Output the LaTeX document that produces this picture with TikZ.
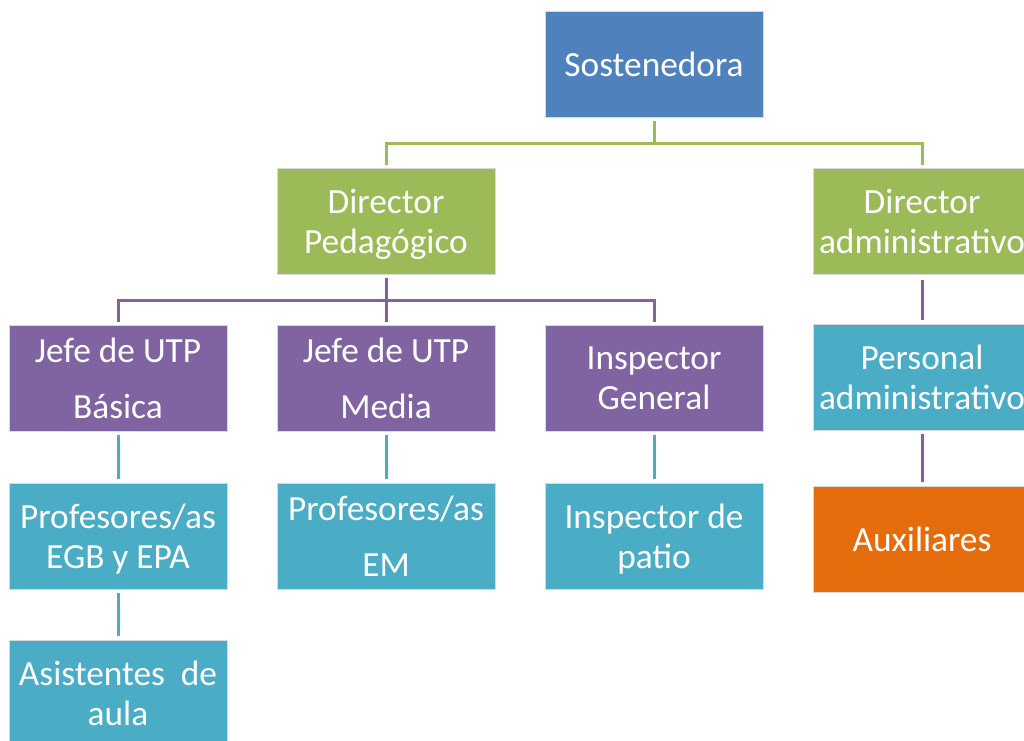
\documentclass[tikz,border=0pt]{standalone}
\usepackage{fontspec}
\setmainfont{Carlito}
\definecolor{cblue}{HTML}{4F81BD}
\definecolor{cgreen}{HTML}{9BBB59}
\definecolor{cpurple}{HTML}{8064A2}
\definecolor{cteal}{HTML}{4BACC6}
\definecolor{corange}{HTML}{E46C0A}
\newcommand{\nodp}[1]{\raisebox{0pt}[\height][0pt]{#1}}
\begin{document}
\begin{tikzpicture}[x=0.75pt,y=-0.75pt,
  box/.style={minimum width=163.5pt, minimum height=79.5pt, inner sep=0pt,
    text=white, align=center, draw=white!85!black, line width=0.4pt,
    font=\fontsize{26.5}{30}\selectfont},
  wide/.style={font=\fontsize{26.5}{42}\selectfont},
  conn/.style={line width=2.25pt},
  gline/.style={conn, draw=cgreen},
  pline/.style={conn, draw=cpurple},
  tline/.style={conn, draw=cteal}]
\useasboundingbox (0,0) rectangle (1024,740);
\clip (0,0) rectangle (1024,740);
\fill[white] (0,0) rectangle (1024,740);

\node[box, fill=cblue] (sost) at (654,64) {Sostenedora};
\node[box, fill=cgreen] (dp) at (386,221) {Director\\\nodp{Pedagógico}};
\node[box, fill=cgreen] (da) at (922,221) {Director\\administrativo};
\node[box, wide, fill=cpurple] (jb) at (118,378) {Jefe de UTP\\Básica};
\node[box, wide, fill=cpurple] (jm) at (386,378) {Jefe de UTP\\Media};
\node[box, fill=cpurple] (ig) at (654,378) {Inspector\\General};
\node[box, fill=cteal] (pa) at (922,377) {Personal\\administrativo};
\node[box, fill=cteal] (pe) at (118,536) {Profesores/as\\\nodp{EGB y EPA}};
\node[box, wide, fill=cteal] (pm) at (386,536) {Profesores/as\\EM};
\node[box, fill=cteal] (ip) at (654,536) {Inspector de\\\nodp{patio}};
\node[box, fill=corange] (aux) at (922,539) {Auxiliares};
\node[box, fill=cteal] (as) at (118,693) {Asistentes\ \ de\\aula};

% green connectors
\draw[gline] ([yshift=-3pt]sost.south) -- ++(0,22) coordinate (gj);
\draw[gline] ([yshift=2pt]dp.north) |- (gj) -| ([yshift=2pt]da.north);
% purple connectors
\draw[pline] ([yshift=-3pt]dp.south) -- ++(0,22) coordinate (pj);
\draw[pline] ([yshift=2pt]jb.north) |- (pj) -| ([yshift=2pt]ig.north);
\draw[pline] (pj) -- ([yshift=2pt]jm.north);
\draw[pline] ([yshift=-4pt]da.south) -- ([yshift=3pt]pa.north);
\draw[pline] ([yshift=-3pt]pa.south) -- ([yshift=3pt]aux.north);
% teal connectors
\draw[tline] ([yshift=-3pt]jb.south) -- ([yshift=3pt]pe.north);
\draw[tline] ([yshift=-3pt]jm.south) -- ([yshift=3pt]pm.north);
\draw[tline] ([yshift=-3pt]ig.south) -- ([yshift=3pt]ip.north);
\draw[tline] ([yshift=-3pt]pe.south) -- ([yshift=3pt]as.north);
\end{tikzpicture}
\end{document}
